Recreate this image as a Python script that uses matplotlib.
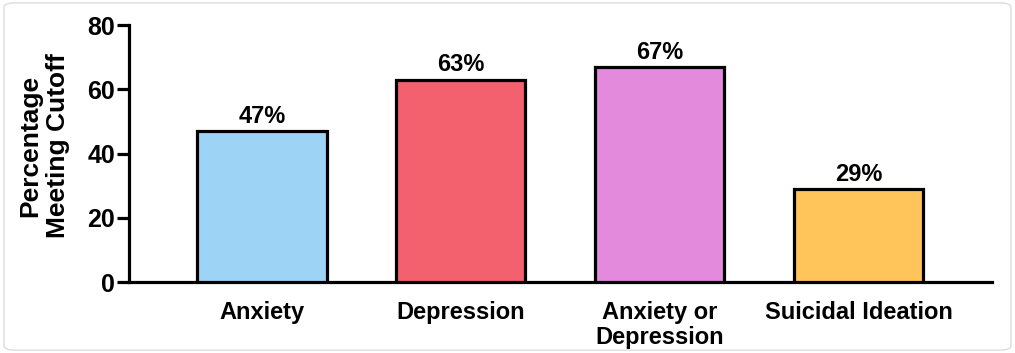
import numpy as np
import matplotlib.pyplot as plt
from matplotlib.patches import FancyBboxPatch

plt.rcParams['font.family'] = ['Liberation Sans', 'DejaVu Sans']
plt.rcParams['font.weight'] = 'bold'

# Data
categories = ['Anxiety', 'Depression', 'Anxiety or\nDepression', 'Suicidal Ideation']
values = [47, 63, 67, 29]
labels = ['47%', '63%', '67%', '29%']
colors = ['#9DD3F4', '#F3616F', '#E38ADD', '#FFC55B']

fig = plt.figure(figsize=(10.15, 3.53), dpi=100)
ax = fig.add_axes([0.127, 0.201, 0.85, 0.728])

# rounded frame around the picture
frame = FancyBboxPatch((0.004, 0.008), 0.992, 0.984, boxstyle='round,pad=0,rounding_size=0.012',
                       transform=fig.transFigure, facecolor='none', edgecolor='#dddddd', lw=1.0)
fig.patches.append(frame)

x = np.arange(len(categories))
ax.bar(x, values, width=0.65, color=colors, edgecolor='black', linewidth=2.3, zorder=3)

for xi, v, lab in zip(x, values, labels):
    ax.text(xi, v + 1.0, lab, ha='center', va='bottom', fontsize=17, fontweight='bold')

ax.set_xlim(-0.67, 3.67)
ax.set_ylim(0, 80)
ax.set_yticks([0, 20, 40, 60, 80])
ax.set_xticks(x)
ax.set_xticklabels(categories, fontsize=17, fontweight='bold', linespacing=1.1)
ax.tick_params(axis='x', length=0, pad=14)
ax.tick_params(axis='y', length=9, width=2.3, labelsize=18, pad=1)

for s in ['top', 'right']:
    ax.spines[s].set_visible(False)
for s in ['left', 'bottom']:
    ax.spines[s].set_linewidth(2.3)

ax.set_ylabel('Percentage\nMeeting Cutoff', fontsize=19, fontweight='bold', linespacing=1.2)
ax.yaxis.set_label_coords(-0.068, 0.53)

fig.savefig('out.png', dpi=100)
